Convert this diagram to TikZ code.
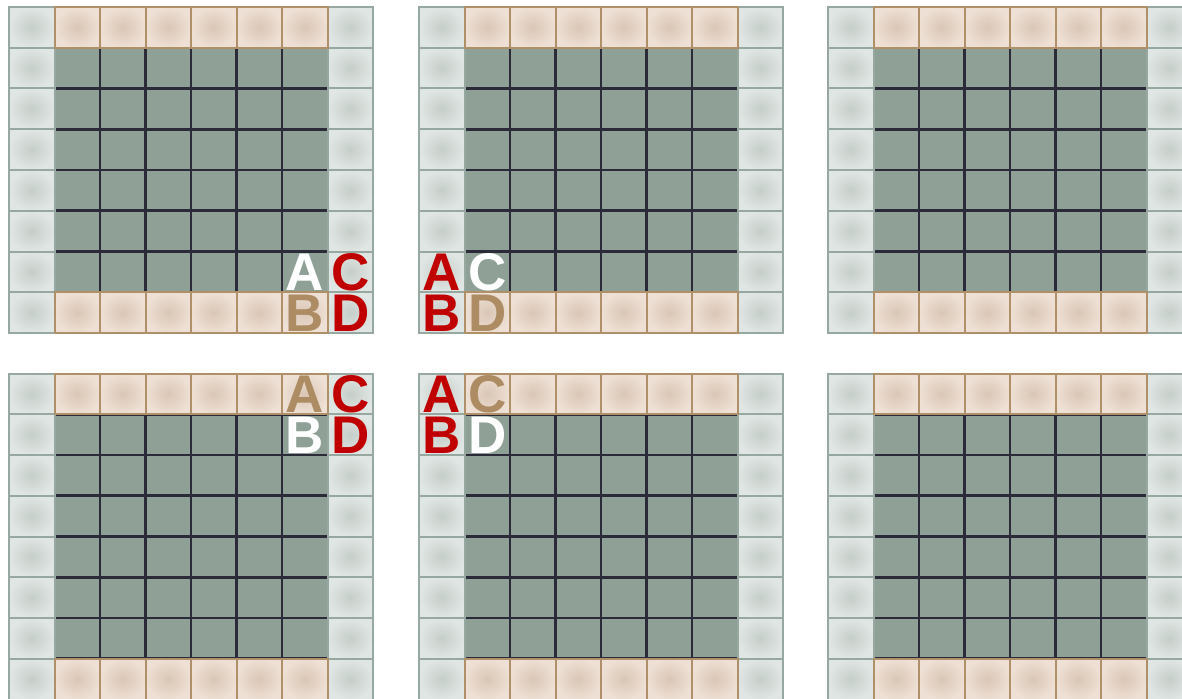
\documentclass[tikz,border=0pt]{standalone}
\usepackage{fontspec}
\setmainfont{Liberation Sans}
\definecolor{cellgreen}{RGB}{143,160,150}
\definecolor{darkline}{RGB}{42,42,56}
\definecolor{lightin}{RGB}{198,206,202}
\definecolor{lightout}{RGB}{224,230,227}
\definecolor{lightline}{RGB}{150,168,160}
\definecolor{tanin}{RGB}{218,198,182}
\definecolor{tanout}{RGB}{238,224,212}
\definecolor{tanline}{RGB}{176,144,104}
\definecolor{tanletter}{RGB}{173,140,99}
\definecolor{redletter}{RGB}{192,0,0}
\tikzset{
  lightcell/.style={shading=radial, inner color=lightin, outer color=lightout, draw=lightline, line width=2pt},
  tancell/.style={shading=radial, inner color=tanin, outer color=tanout, draw=tanline, line width=2pt},
  gridline/.style={draw=darkline, line width=2.8pt},
  letter/.style={anchor=base, inner sep=0pt, text height=37pt, text depth=0pt, font=\fontsize{53}{53}\selectfont\bfseries}
}
\newcommand\boardat[2]{%
  \fill[cellgreen] ({#1+45.5},{#2+40.75}) rectangle ({#1+7*45.5},{#2+7*40.75});
  \foreach \i in {2,...,6} {
    \draw[gridline] ({#1+\i*45.5},{#2+40.75}) -- ({#1+\i*45.5},{#2+7*40.75});
    \draw[gridline] ({#1+45.5},{#2+\i*40.75}) -- ({#1+7*45.5},{#2+\i*40.75});
  }
  \draw[gridline] ({#1+45.5},{#2+40.75}) -- ({#1+7*45.5},{#2+40.75});
  \draw[gridline] ({#1+45.5},{#2+7*40.75}) -- ({#1+7*45.5},{#2+7*40.75});
  \foreach \r in {0,...,7} {
    \foreach \c in {0,7} {
      \path[lightcell] ({#1+\c*45.5},{#2+\r*40.75}) rectangle ({#1+(\c+1)*45.5},{#2+(\r+1)*40.75});
    }
  }
  \foreach \c in {1,...,6} {
    \foreach \r in {0,7} {
      \path[tancell] ({#1+\c*45.5},{#2+\r*40.75}) rectangle ({#1+(\c+1)*45.5},{#2+(\r+1)*40.75});
    }
  }
}
% letter: name, origin x, origin y, col, row, colour, text
\newcommand\letterat[7]{%
  \node[letter, text=#6] (#1) at ({#2+(#4+0.5)*45.5},{#3+(#5+1)*40.75-1.6}) {#7};
}
\begin{document}
\begin{tikzpicture}[x=1pt,y=-1pt]
\useasboundingbox (0,0) rectangle (1182,698);
\clip (0,0) rectangle (1182,698);
\boardat{9}{7}
\boardat{419}{7}
\boardat{828}{7}
\boardat{9}{373.5}
\boardat{419}{373.5}
\boardat{828}{373.5}
% board 1
\letterat{a1}{9}{7}{6}{6}{white}{A}
\letterat{c1}{9}{7}{7}{6}{redletter}{C}
\letterat{b1}{9}{7}{6}{7}{tanletter}{B}
\letterat{d1}{9}{7}{7}{7}{redletter}{D}
% board 2
\letterat{a2}{419}{7}{0}{6}{redletter}{A}
\letterat{c2}{419}{7}{1}{6}{white}{C}
\letterat{b2}{419}{7}{0}{7}{redletter}{B}
\letterat{d2}{419}{7}{1}{7}{tanletter}{D}
% board 4
\letterat{a4}{9}{373.5}{6}{0}{tanletter}{A}
\letterat{c4}{9}{373.5}{7}{0}{redletter}{C}
\letterat{b4}{9}{373.5}{6}{1}{white}{B}
\letterat{d4}{9}{373.5}{7}{1}{redletter}{D}
% board 5
\letterat{a5}{419}{373.5}{0}{0}{redletter}{A}
\letterat{c5}{419}{373.5}{1}{0}{tanletter}{C}
\letterat{b5}{419}{373.5}{0}{1}{redletter}{B}
\letterat{d5}{419}{373.5}{1}{1}{white}{D}
\end{tikzpicture}
\end{document}
